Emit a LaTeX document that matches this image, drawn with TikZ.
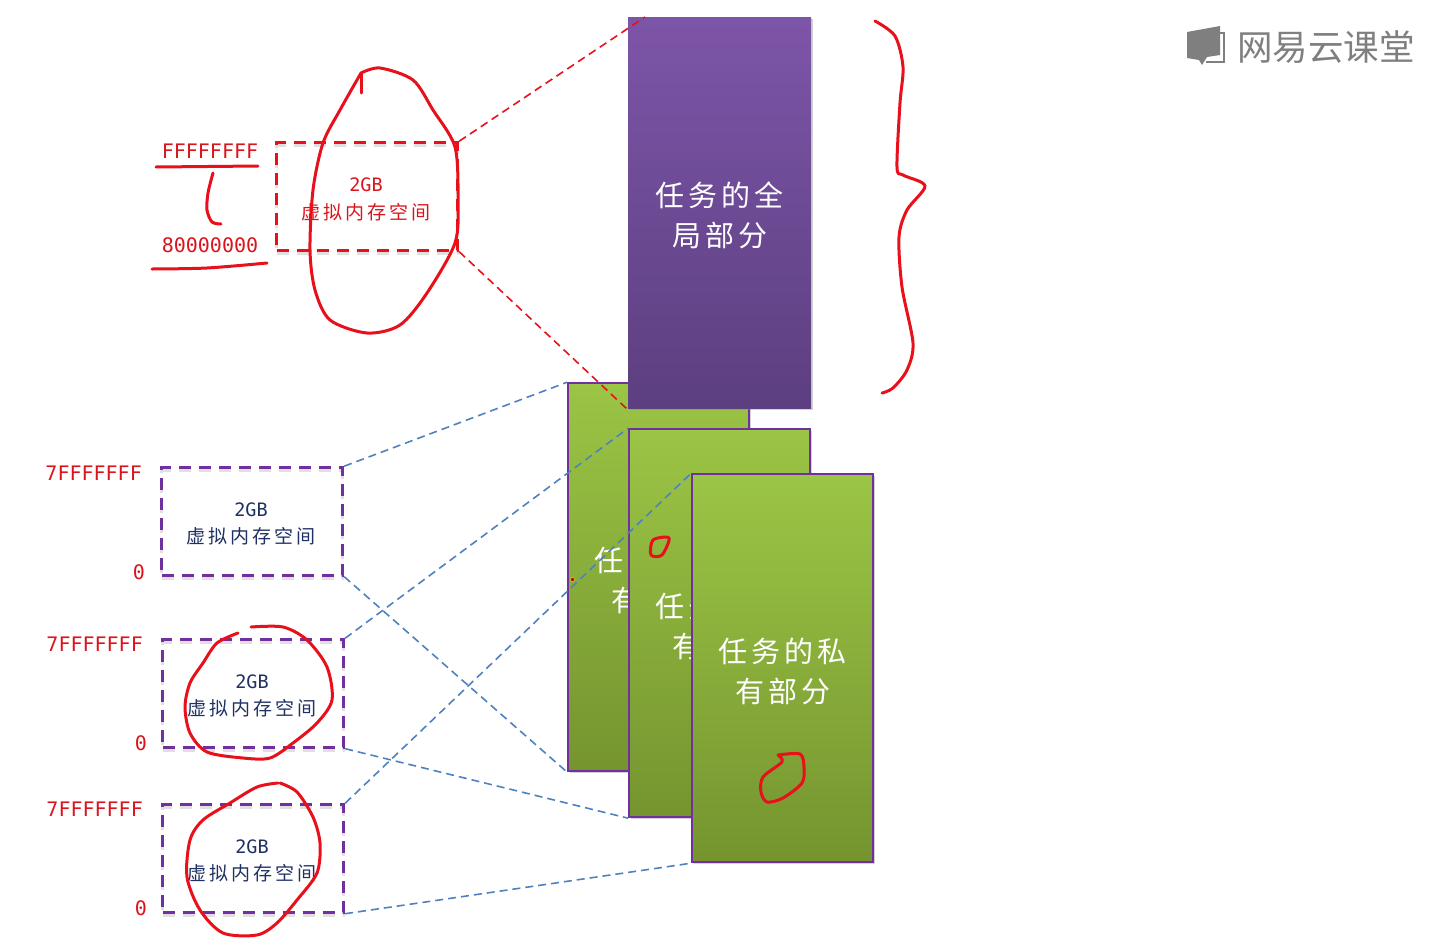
\documentclass[tikz,border=0pt]{standalone}
\usepackage{fontspec}
\setmainfont{Noto Sans CJK SC}
\newfontfamily\addrfont{DejaVu Sans Mono}
\usetikzlibrary{shadows}

\definecolor{inkred}{HTML}{E8101A}
\definecolor{labelred}{HTML}{D9141C}
\definecolor{boxpurple}{HTML}{7030A0}
\definecolor{navytext}{HTML}{1F3064}
\definecolor{linkblue}{HTML}{4F81BD}
\definecolor{logogray}{HTML}{7F7F7F}
\definecolor{greentop}{HTML}{9BC545}
\definecolor{greenbot}{HTML}{75942F}
\definecolor{purptop}{HTML}{7D55A8}
\definecolor{purpbot}{HTML}{5C3F80}

\begin{document}
\begin{tikzpicture}[
    x=1pt, y=-1pt,
    card/.style={draw=boxpurple, line width=2pt, anchor=north west, inner sep=0pt,
      minimum width=181pt, minimum height=388pt,
      top color=greentop, bottom color=greenbot,
      drop shadow={shadow xshift=1.5pt, shadow yshift=-1.5pt, opacity=0.35}},
    cardtxt/.style={align=center, text=white, yshift=-3pt,
      font=\fontsize{29}{40}\selectfont\addfontfeature{LetterSpace=14}},
    membox/.style={line width=3pt, dash pattern=on 12pt off 8pt, anchor=north west,
      inner sep=0pt, minimum width=181pt, minimum height=107.5pt},
    boxshadow/.style={preaction={draw=black!12, transform canvas={yshift=-3pt}}},
    sizetxt/.style={font=\addrfont\fontsize{18.5}{20}\selectfont},
    spacetxt/.style={font=\fontsize{19}{20}\selectfont\addfontfeature{LetterSpace=16}},
    addr/.style={font=\addrfont\fontsize{20}{22}\selectfont, text=labelred, inner sep=0pt},
    ink/.style={draw=inkred, line width=3pt, line cap=round, line join=round},
    link/.style={draw=linkblue, line width=1.6pt, dash pattern=on 8pt off 5pt},
    redlink/.style={draw=inkred, line width=1.6pt, dash pattern=on 8pt off 5pt},
  ]
  \useasboundingbox (0,0) rectangle (1446,940);

  % Private parts of the tasks, stacked.
  \foreach \name/\x/\y in {cardA/567.2/382.2, cardB/628.2/428.2, cardC/691.2/473.2} {
    \node[card] (\name) at (\x,\y) {};
    \node[cardtxt] (txt\name) at (\name.center) {任务的私\\有部分};
  }

  % Address boxes on the left.
  \node[membox, draw=inkred, boxshadow] (boxK) at (275.2,141.2) {};
  \node[sizetxt, text=labelred] (sizeK) at (366,185) {2GB};
  \node[spacetxt, text=labelred] (spaceK) at (366,212) {虚拟内存空间};
  \foreach \name/\x/\y in {boxA/160.2/466.2, boxB/161.2/638.2, boxC/161.2/803.2} {
    \node[membox, draw=boxpurple, boxshadow] (\name) at (\x,\y) {};
    \node[sizetxt, text=navytext] (size\name) at (\x+90.8,\y+43.8) {2GB};
    \node[spacetxt, text=navytext] (space\name) at (\x+90.8,\y+70.3) {虚拟内存空间};
  }

  % Addresses.
  \node[addr] (hiK) at (210,151) {FFFFFFFF};
  \node[addr] (loK) at (210,245) {80000000};
  \node[addr, anchor=east] (hiA) at (142,473) {7FFFFFFF};
  \node[addr, anchor=east] (loA) at (145,572) {0};
  \node[addr, anchor=east] (hiB) at (143,644) {7FFFFFFF};
  \node[addr, anchor=east] (loB) at (147,743) {0};
  \node[addr, anchor=east] (hiC) at (143,809) {7FFFFFFF};
  \node[addr, anchor=east] (loC) at (147,908) {0};

  % Links from boxes to cards.
  \foreach \a/\b in {boxA/cardA, boxB/cardB, boxC/cardC} {
    \draw[link] (\a.north east) -- (\b.north west);
    \draw[link] (\a.south east) -- (\b.south west);
  }

  % Global part on top.
  \node[card, draw=none, top color=purptop, bottom color=purpbot, minimum width=183pt,
    minimum height=391pt] (global) at (627.2,16.2) {};
  \node[cardtxt] (txtglobal) at (global.center) {任务的全\\局部分};
  \coordinate (globaltop) at (645,17);
  \draw[redlink] (boxK.north east) -- (globaltop);
  \draw[redlink] (boxK.south east) -- (global.south west);

  % Red pen strokes.
  \draw[ink] (156,167) -- (258,166);
  \draw[ink] plot[smooth] coordinates {(152,269) (207,268) (267,263)};
  \draw[ink] plot[smooth] coordinates {(213,173) (208,193) (207,210) (212,222) (221,224)};
  \draw[ink] (361,93) -- (361,73);
  \draw[ink] plot[smooth] coordinates {(361,73) (340,110) (323,143) (313,190) (310,250)
    (315,290) (330,320) (367,333) (400,325) (427,293) (455,243) (458,200) (455,147) (433,110)
    (413,80) (380,68) (361,73)};
  \draw[ink] plot[smooth] coordinates {(238,633) (217,643) (203,663) (190,683) (185,707) (190,733)
    (207,752) (243,758) (270,758) (293,743) (317,723) (332,700) (327,667) (307,640) (283,627) (251,627)};
  \draw[ink] plot[smooth] coordinates {(278,783) (257,787) (230,803) (203,820) (190,840) (187,877)
    (200,910) (223,933) (257,935) (277,923) (297,900) (317,873) (320,843) (313,817) (297,792) (280,783)};
  \draw[ink] plot[smooth, tension=0.5] coordinates {(875,21) (895,36) (903,67) (900,103) (897,167)
    (903,175) (925,186) (907,210) (899,237) (902,287) (913,343) (907,370) (893,388) (882,393)};
  \draw[ink] plot[smooth cycle, tension=0.5] coordinates {(669,538) (653,540) (651,555) (662,555)};
  \draw[ink] plot[smooth, tension=0.5] coordinates {(778,755) (800,754) (804,767) (802,783) (783,798)
    (767,802) (761,792) (763,777) (782,762) (778,755)};
  \node[circle, draw=yellow!80!black, fill=red!70!black, inner sep=0pt, minimum size=4pt, line width=0.6pt]
    (pointer) at (572.5,579.5) {};

  % Logo.
  \fill[logogray] (1187,32) -- (1220,26) -- (1220,55) -- (1207,57) -- (1202,65) -- (1199,60) -- (1187,58) -- cycle;
  \draw[logogray, line width=1.2pt] (1220,33) -- (1224,33) -- (1224,62) -- (1206,62);
  \node[text=logogray, font=\fontsize{35.5}{36}\selectfont, anchor=center] (logotxt) at (1326,47) {网易云课堂};
\end{tikzpicture}
\end{document}
